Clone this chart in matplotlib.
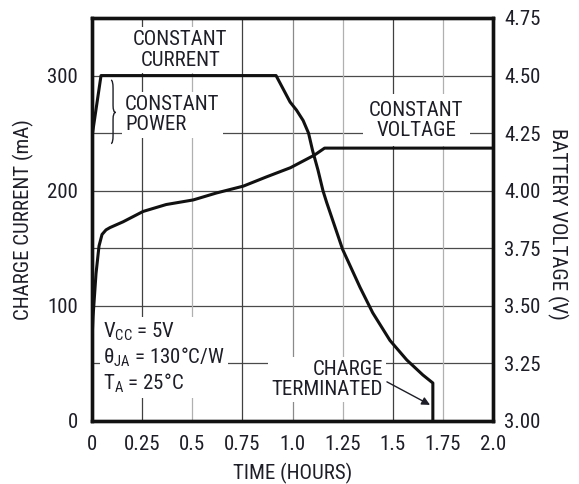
import matplotlib
matplotlib.use("Agg")
import matplotlib.pyplot as plt
from matplotlib.path import Path
from matplotlib.patches import PathPatch

plt.rcParams['font.family'] = ['Roboto Condensed', 'DejaVu Sans']
plt.rcParams['mathtext.fontset'] = 'custom'
plt.rcParams['mathtext.rm'] = 'Roboto Condensed'
plt.rcParams['mathtext.it'] = 'Roboto Condensed'

# charge current (mA) vs time (hours)
current_t = [0, 0.045, 0.918, 0.988, 1.02, 1.053, 1.08, 1.10, 1.127, 1.152,
             1.17, 1.25, 1.337, 1.40, 1.486, 1.57, 1.65, 1.70, 1.70]
current_ma = [247, 300, 300, 277, 270, 261, 250, 235, 218, 200,
              190, 149, 116, 94, 70, 53, 40, 33, 0]

# battery voltage (V) vs time (hours)
voltage_t = [0, 0.005, 0.02, 0.035, 0.05, 0.07, 0.09, 0.155, 0.255, 0.37,
             0.505, 0.62, 0.755, 0.87, 0.99, 1.11, 1.16, 2.0]
voltage_v = [3.35, 3.45, 3.64, 3.76, 3.81, 3.83, 3.84, 3.865, 3.91, 3.94,
             3.96, 3.99, 4.02, 4.06, 4.10, 4.155, 4.185, 4.185]

x_ticks = [0, 0.25, 0.5, 0.75, 1.0, 1.25, 1.5, 1.75, 2.0]
x_labels = ['0', '0.25', '0.5', '0.75', '1.0', '1.25', '1.5', '1.75', '2.0']
left_ticks = [0, 100, 200, 300]
right_ticks = [3.00, 3.25, 3.50, 3.75, 4.00, 4.25, 4.50, 4.75]

ink = '#1e1e28'
fs = 15

fig = plt.figure(figsize=(5.79, 4.84), dpi=100)
ax = fig.add_axes([92 / 579, 63 / 484, 401 / 579, 403 / 484])
ax2 = ax.twinx()

ax.set_xlim(0, 2.0)
ax.set_ylim(0, 350)
ax2.set_ylim(3.0, 4.75)

# grid
for y in [50, 100, 150, 200, 250, 300]:
    ax.axhline(y, color='#4a4a4a', lw=0.9, zorder=0.5)
dark_cols = [0.25, 0.75, 1.5]
for x in x_ticks[1:-1]:
    col = '#404040' if x in dark_cols else ('#8a8a8a' if x == 1.0 else '#b0b0b0')
    ax.axvline(x, color=col, lw=0.9, zorder=0.5)

ax.plot(current_t, current_ma, color='#111111', lw=2.2, zorder=6,
        solid_joinstyle='round')
ax2.plot(voltage_t, voltage_v, color='#111111', lw=2.2, zorder=6,
         solid_joinstyle='round')

ax.set_xticks(x_ticks)
ax.set_xticklabels(x_labels)
ax.set_yticks(left_ticks)
ax2.set_yticks(right_ticks)
ax2.set_yticklabels([f'{v:.2f}' for v in right_ticks])

ax.tick_params(axis='x', length=0, pad=10, labelsize=fs, labelcolor=ink)
ax.tick_params(axis='y', length=0, pad=10, labelsize=fs, labelcolor=ink)
ax2.tick_params(axis='y', length=0, pad=8, labelsize=fs, labelcolor=ink)

for a in (ax, ax2):
    for s in a.spines.values():
        s.set_linewidth(2.4)
        s.set_color('#111111')

ax.set_xlabel('TIME (HOURS)', fontsize=fs, color=ink)
ax.xaxis.set_label_coords(0.5, -0.105)
ax.set_ylabel('CHARGE CURRENT (mA)', fontsize=fs, color=ink)
ax.yaxis.set_label_coords(-0.145, 0.5)
ax2.set_ylabel('BATTERY VOLTAGE (V)', fontsize=fs, color=ink, rotation=270,
               va='center')
ax2.yaxis.set_label_coords(1.16, 0.49)

box = dict(boxstyle='square,pad=0.15', fc='white', ec='none')

ax.text(0.441, 322, 'CONSTANT\nCURRENT', ha='center', va='center', fontsize=fs,
        color=ink, bbox=box, zorder=4, linespacing=1.1)
ax.text(0.165, 266, 'CONSTANT\nPOWER', ha='left', va='center', fontsize=fs,
        color=ink, bbox=box, zorder=4, linespacing=1.1)
ax.text(1.618, 261, 'CONSTANT\nVOLTAGE', ha='center', va='center', fontsize=fs,
        color=ink, bbox=dict(boxstyle='square,pad=0.3', fc='white', ec='none'),
        zorder=4, linespacing=1.1)
ax.text(0.055, 55, 'V$_\\mathregular{CC}$ = 5V\nθ$_\\mathregular{JA}$ = 130°C/W\n'
        'T$_\\mathregular{A}$ = 25°C', ha='left', va='center', fontsize=fs,
        color=ink, bbox=box, zorder=4, linespacing=1.15)
ax.text(1.451, 36, 'CHARGE\nTERMINATED', ha='right', va='center', fontsize=fs,
        color=ink, bbox=box, zorder=4, linespacing=1.1, multialignment='right')

ax.annotate('', xy=(1.686, 14), xytext=(1.471, 34),
            arrowprops=dict(arrowstyle='-|>', color=ink, lw=1.0,
                            mutation_scale=12, shrinkA=0, shrinkB=0),
            zorder=7)

# brace next to CONSTANT POWER
verts = [(0.095, 296), (0.105, 296), (0.105, 289),
         (0.105, 274), (0.105, 268), (0.118, 268),
         (0.105, 268), (0.105, 262), (0.105, 248),
         (0.105, 241), (0.095, 241)]
codes = [Path.MOVETO, Path.CURVE3, Path.CURVE3,
         Path.LINETO, Path.CURVE3, Path.CURVE3,
         Path.CURVE3, Path.CURVE3, Path.LINETO,
         Path.CURVE3, Path.CURVE3]
ax.add_patch(PathPatch(Path(verts, codes), fc='none', ec=ink, lw=1.0, zorder=5))

fig.savefig('out.png', dpi=100)
